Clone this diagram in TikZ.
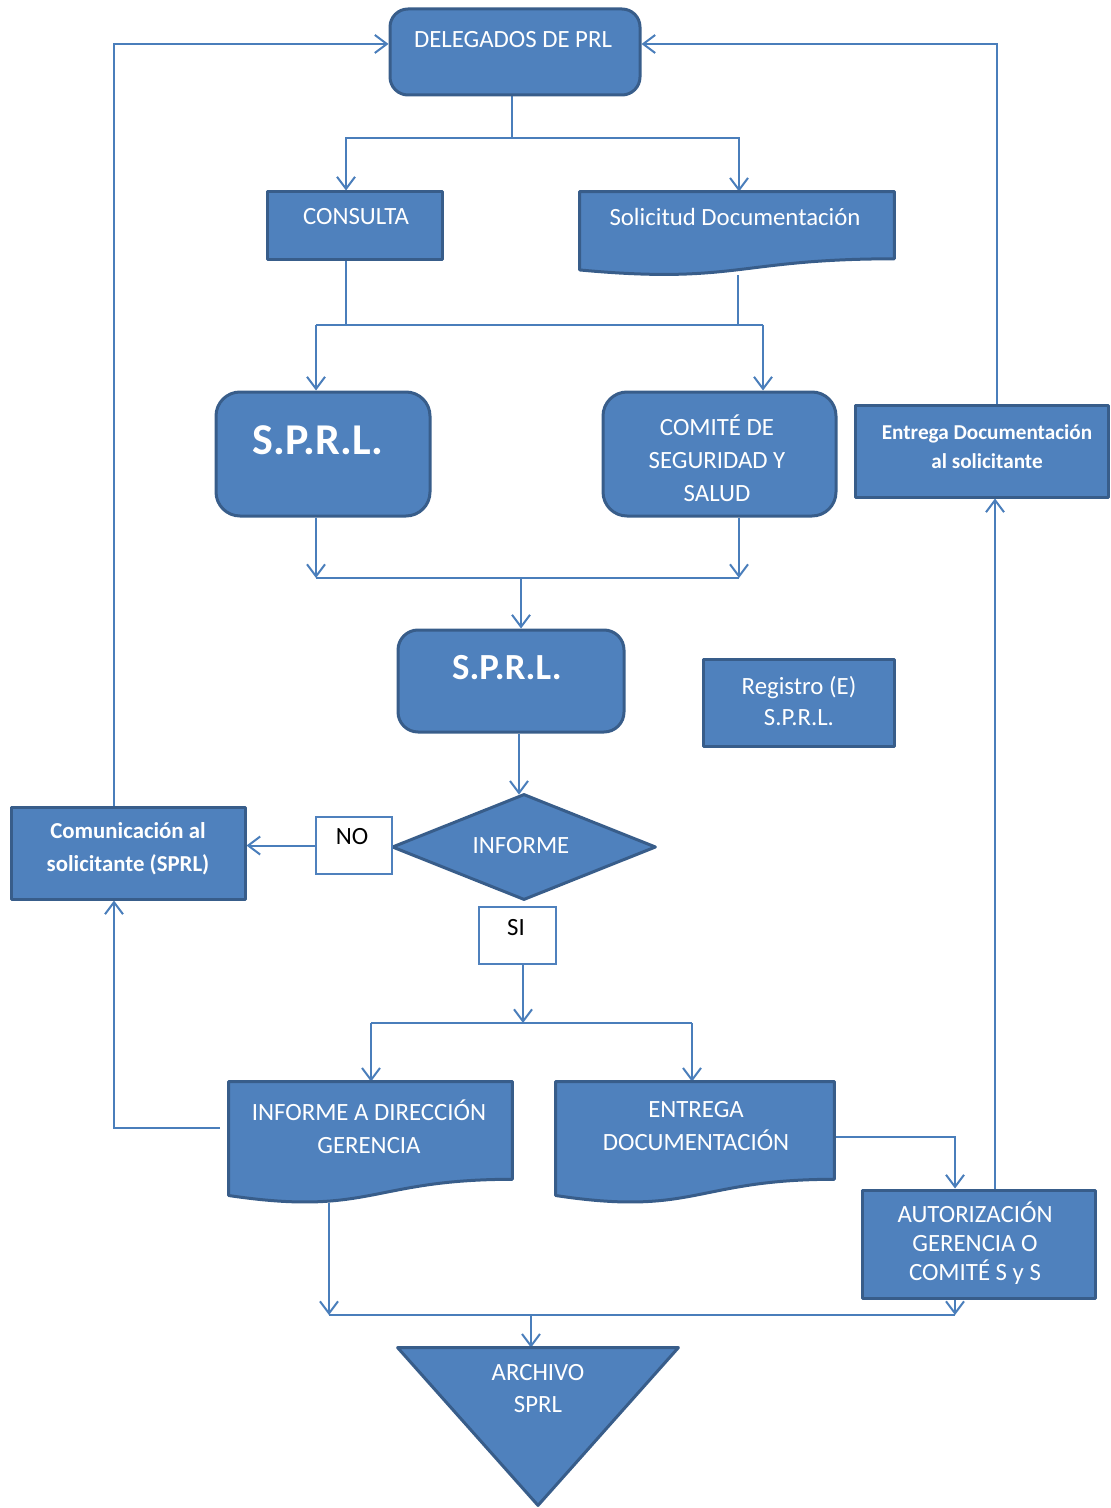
\documentclass[tikz,border=0pt]{standalone}
\usepackage{fontspec}
\setmainfont{Carlito}
\usetikzlibrary{arrows.meta,calc}
\definecolor{boxfill}{HTML}{4F81BD}
\definecolor{boxedge}{HTML}{385D8A}
\definecolor{linec}{HTML}{4A7EBB}
\pgfdeclarelayer{bg}
\pgfsetlayers{bg,main}
\newcommand\docpath[1]{%
  \draw[shp] (#1.north west) -- (#1.north east) -- ($(#1.north east)!0.802!(#1.south east)$)
    .. controls ($(#1.north)!0.802!(#1.south)$) and ($(#1.north)!1.109!(#1.south)$) ..
    ($(#1.north west)!0.935!(#1.south west)$) -- cycle;}
\begin{document}
\begin{tikzpicture}[x=0.5pt,y=-0.5pt,
  shp/.style={fill=boxfill,draw=boxedge,line width=1.5pt,line join=round},
  rbox/.style={shp,rectangle,rounded corners=8pt,inner sep=0pt},
  sbox/.style={shp,rectangle,inner sep=0pt},
  anchorbox/.style={rectangle,inner sep=0pt,draw=none},
  lab/.style={text=white,font=\fontsize{12.4}{16.5}\selectfont,align=center,inner sep=0pt},
  tag/.style={draw=boxfill,line width=1pt,fill=white,inner sep=0pt},
  tagtext/.style={text=black,font=\fontsize{12.4}{15}\selectfont,inner sep=0pt},
  conn/.style={draw=linec,line width=1pt},
  arr/.style={conn,-{Straight Barb[length=6pt,width=9pt]}}]

\useasboundingbox (0,0) rectangle (1110,1508);

% ---------- shapes ----------
\node[rbox,rounded corners=9pt,minimum width=125pt,minimum height=43pt] (del) at (515,52) {};
\node[sbox,minimum width=87.5pt,minimum height=34pt] (cons) at (354.5,226) {};
\node[anchorbox,minimum width=157pt,minimum height=41.5pt] (sol) at (737,233.5) {};
\docpath{sol}
\node[rbox,rounded corners=12pt,minimum width=107pt,minimum height=62pt] (sprl1) at (323,454) {};
\node[rbox,rounded corners=12pt,minimum width=116.5pt,minimum height=62pt] (comite) at (719.5,454) {};
\node[sbox,minimum width=126.5pt,minimum height=46pt] (entsol) at (981.5,451) {};
\node[rbox,rounded corners=10pt,minimum width=113pt,minimum height=51pt] (sprl2) at (511,681) {};
\node[sbox,minimum width=95.5pt,minimum height=43.5pt] (reg) at (798.5,702.5) {};
\node[anchorbox,minimum width=131pt,minimum height=52pt] (inf) at (524,847) {};
\draw[shp] (inf.north) -- (inf.east) -- (inf.south) -- (inf.west) -- cycle;
\node[tag,minimum width=38pt,minimum height=28.5pt] (no) at (354,845.5) {};
\node[sbox,minimum width=117pt,minimum height=46pt] (com) at (128,853) {};
\node[tag,minimum width=38.5pt,minimum height=28.5pt] (si) at (517.5,935.5) {};
\node[anchorbox,minimum width=141.5pt,minimum height=60.5pt] (infdir) at (370.5,1142.5) {};
\docpath{infdir}
\node[anchorbox,minimum width=139pt,minimum height=60.5pt] (entdoc) at (695,1142.5) {};
\docpath{entdoc}
\node[sbox,minimum width=116.5pt,minimum height=54pt] (aut) at (978.5,1244) {};
\node[anchorbox,minimum width=140pt,minimum height=78.5pt] (arch) at (538,1426.5) {};
\draw[shp] (arch.north west) -- (arch.north east) -- (arch.south) -- cycle;

% ---------- texts ----------
\node[lab] (tdel) at (513,40) {DELEGADOS DE PRL};
\node[lab] (tcons) at (356,217) {CONSULTA};
\node[lab] (tsol) at (735,217) {Solicitud Documentación};
\node[lab,font=\fontsize{22}{26}\selectfont\bfseries] (tsprl1) at (318,440) {S.P.R.L.};
\node[lab] (tcomite) at (717,458) {COMITÉ DE\\SEGURIDAD Y\\SALUD};
\node[lab,font=\fontsize{10.6}{14.5}\selectfont\bfseries] (tentsol) at (987,447) {Entrega Documentación\\al solicitante};
\node[lab,font=\fontsize{18.4}{22}\selectfont\bfseries] (tsprl2) at (507,668) {S.P.R.L.};
\node[lab,font=\fontsize{12.4}{15.5}\selectfont] (treg) at (799,701.5) {Registro (E)\\S.P.R.L.};
\node[lab] (tinf) at (521,846) {INFORME};
\node[tagtext] (tno) at (352,837) {NO};
\node[lab,font=\fontsize{11.4}{16.5}\selectfont\bfseries] (tcom) at (128,848.5) {Comunicación al\\solicitante (SPRL)};
\node[tagtext] (tsi) at (516,928) {SI};
\node[lab] (tinfdir) at (369,1126.5) {INFORME A DIRECCIÓN\\GERENCIA};
\node[lab] (tentdoc) at (696,1126.5) {ENTREGA\\DOCUMENTACIÓN};
\node[lab,font=\fontsize{12.4}{14.5}\selectfont] (taut) at (975,1243) {AUTORIZACIÓN\\GERENCIA O\\COMITÉ S y S};
\node[lab,font=\fontsize{12.4}{16}\selectfont] (tarch) at (538,1389) {ARCHIVO\\SPRL};

% ---------- connectors ----------
\begin{pgfonlayer}{bg}
\coordinate (j1) at (512,138);
\draw[conn] ([xshift=-1.5pt]del.south) -- (j1);
\draw[arr] (j1) -| ([xshift=-4.25pt]cons.north);
\draw[arr] (j1) -| ([xshift=1pt]sol.north);

\coordinate (j2) at (316,325);
\coordinate (j3) at (763,325);
\draw[conn] ([xshift=-4.25pt]cons.south) |- (j2);
\draw[conn] ([xshift=0.5pt]sol.south) |- (j3);
\draw[conn] (j2) -- (j3);
\draw[arr] (j2) -- (j2 |- sprl1.north);
\draw[arr] (j3) -- (j3 |- comite.north);

\coordinate (j4) at (316,578);
\coordinate (j5) at (739,578);
\coordinate (j6) at (521,578);
\draw[arr] (j4 |- sprl1.south) -- (j4);
\draw[arr] (j5 |- comite.south) -- (j5);
\draw[conn] (j4) -- (j5);
\draw[arr] (j6) -- (j6 |- sprl2.north);

\draw[arr] ([xshift=4pt]sprl2.south) -- ([xshift=4pt]sprl2.south |- inf.north);

\draw[arr] (no.west) -- (no.west -| com.east);
\draw[arr] ([xshift=-7pt]com.north) |- ([yshift=4pt]del.west);
\draw[arr] ([xshift=7.75pt]entsol.north) |- ([yshift=4pt]del.east);

\coordinate (j7) at (523,1023);
\coordinate (j8) at (371,1023);
\coordinate (j9) at (692,1023);
\draw[arr] ([xshift=2.75pt]si.south) -- (j7);
\draw[conn] (j8) -- (j9);
\draw[arr] (j8) -- (j8 |- infdir.north);
\draw[arr] (j9) -- (j9 |- entdoc.north);

\coordinate (k1) at (114,1128);
\draw[arr] ([xshift=-4.5pt]infdir.west |- k1) -- (k1) -- (k1 |- com.south);

\coordinate (j10) at (329,1315);
\coordinate (j11) at (955,1315);
\coordinate (j12) at (531,1315);
\draw[arr] (j10 |- infdir.south) -- (j10);
\draw[arr] (j11 |- aut.south) -- (j11);
\draw[conn] (j10) -- (j11);
\draw[arr] (j12) -- (j12 |- arch.north);

\coordinate (k2) at (955,1137);
\draw[arr] (entdoc.east |- k2) -- (k2) -- (k2 |- aut.north);

\draw[arr] ([xshift=8.25pt]aut.north) -- ([xshift=8.25pt]aut.north |- entsol.south);
\end{pgfonlayer}
\end{tikzpicture}
\end{document}
